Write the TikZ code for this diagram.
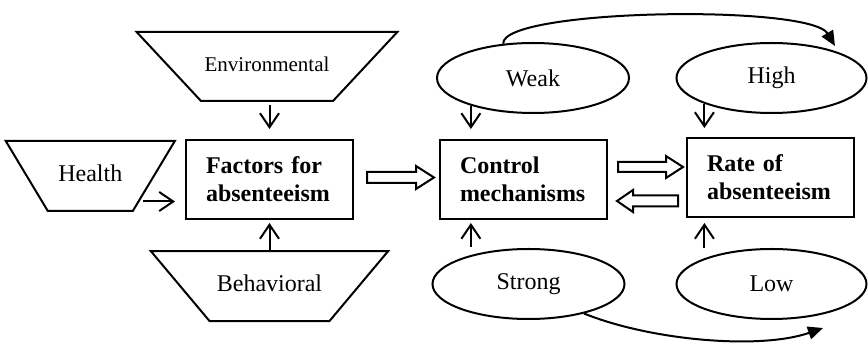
\documentclass[tikz,border=0pt]{standalone}
\usepackage{fontspec}
\setmainfont{Liberation Serif}
\usetikzlibrary{positioning}
\usetikzlibrary{shapes.geometric}
\usetikzlibrary{arrows.meta}

\tikzset{
  cause/.style={trapezium, draw, shape border rotate=180, trapezium stretches=false, align=center, inner xsep=0pt, text height=16pt, text depth=5pt, inner ysep=24.5pt},
  mainbox/.style={rectangle, draw, text width=127pt, align=left, inner xsep=20pt, inner ysep=0pt, minimum height=79pt, font=\fontsize{24}{28}\selectfont\bfseries},
  degree/.style={ellipse, draw, inner sep=0pt, minimum width=192pt, minimum height=70pt},
  arr/.style={-{Straight Barb[length=14pt,width=19pt]}},
  swing/.style={-{Triangle[length=15pt,width=13pt]}},
}

\begin{document}
\begin{tikzpicture}[x=1pt, y=-1pt, line width=2pt, font=\fontsize{24}{28}\selectfont]
  \useasboundingbox (0,0) rectangle (868,344);
  \node[mainbox] (factors) at (269.5,179.5) {Factors for\\absenteeism}; %
  \node[mainbox, right=85pt of factors] (control) {Control\\mechanisms}; %
  \node[mainbox, right=78pt of control, yshift=2pt] (rate) {Rate of\\absenteeism}; %
  \node[cause, above=37pt of factors, xshift=-2.5pt, text width=132pt, inner ysep=24pt, trapezium angle=47, font=\fontsize{21}{25}\selectfont] (environ) {Environmental}; %
  \node[cause, left=30pt of factors, yshift=3.5pt, text width=85pt, trapezium angle=59] (health) {Health}; %
  \node[cause, below=30pt of factors, text width=120pt, trapezium angle=50] (behav) {Behavioral}; %
  \node[degree, above=25pt of control, xshift=9.5pt] (weak) {Weak}; %
  \node[degree, above=23pt of rate, xshift=1pt, minimum width=190pt] (high) {High}; %
  \node[degree, below=28pt of control, xshift=5pt] (strong) {Strong}; %
  \node[degree, below=30pt of rate, xshift=1pt, minimum width=190pt] (low) {Low}; %
  % hollow arrows between the boxes
  \coordinate (fac2ctl) at ([xshift=13pt, yshift=2pt]factors.east); %
  \coordinate (ctl2rate) at ([xshift=10pt, yshift=12.5pt]control.east); %
  \coordinate (rate2ctl) at ([xshift=-8pt, yshift=-23.5pt]rate.west); %
  \draw (fac2ctl) ++(0,-5.5) -- ++(49,0) -- ++(0,-6) -- ++(18,11.5) -- ++(-18,11.5) -- ++(0,-6) -- ++(-49,0) -- cycle; %
  \draw (ctl2rate) ++(0,-5) -- ++(48,0) -- ++(0,-6) -- ++(17,11) -- ++(-17,11) -- ++(0,-6) -- ++(-48,0) -- cycle; %
  \draw (rate2ctl) ++(0,-5.5) -- ++(-45,0) -- ++(0,-5.5) -- ++(-16,11) -- ++(16,11) -- ++(0,-5.5) -- ++(45,0) -- cycle; %
  \draw[arr, shorten <=3pt, shorten >=10pt] (factors.north |- environ.south) -- (factors.north); %
  \draw[arr, shorten <=-12pt, shorten >=10pt] ([yshift=-22pt]factors.west -| health.east) -- ([yshift=-22pt]factors.west); %
  \draw[arr, shorten >=3pt] (factors.south |- behav.north) -- (factors.south); %
  \draw[arr, shorten >=10pt] (weak.204) -- (weak.204 |- control.north); %
  \draw[arr, shorten <=1pt, shorten >=3pt] (strong.north -| weak.204) -- (weak.204 |- control.south); %
  \draw[arr, shorten >=9pt] (high.201) -- (high.201 |- rate.north); %
  \draw[arr, shorten >=5pt] (low.north -| high.201) -- (high.201 |- rate.south); %
  \coordinate (hightip) at (835,46); %
  \coordinate (lowtip) at (823,328); %
  \draw[swing] (weak.131) .. controls +(-2,-35) and +(-25,-42) .. (hightip); %
  \draw[swing] (strong.-28) .. controls +(67,27) and +(-63,22) .. (lowtip); %
\end{tikzpicture}
\end{document}
